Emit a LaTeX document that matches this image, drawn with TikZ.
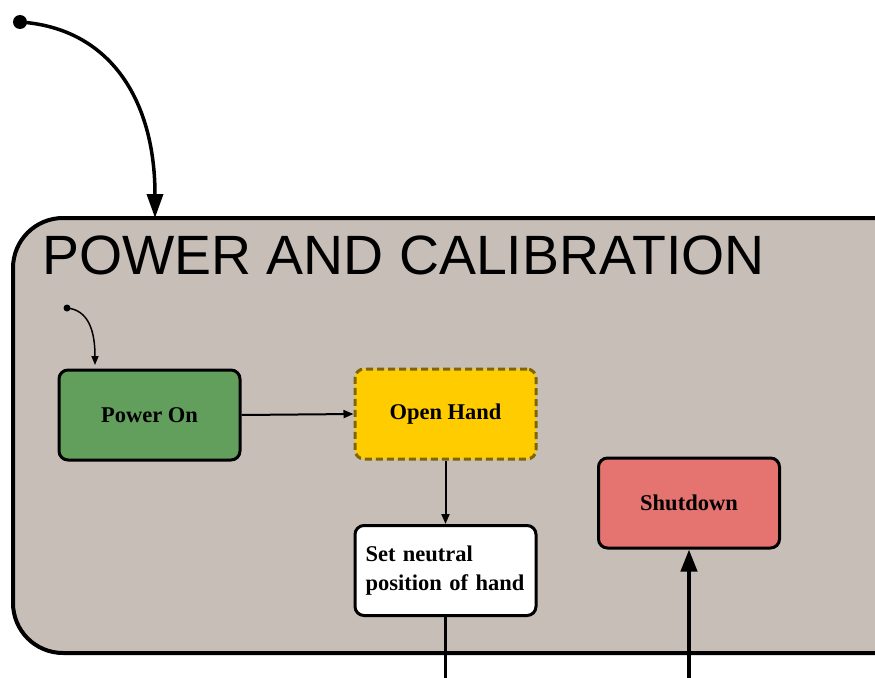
\documentclass[tikz,border=0pt]{standalone}
\usepackage{fontspec}
\setmainfont{Liberation Serif}
\newfontfamily\titlefont{Liberation Sans}
\usetikzlibrary{arrows.meta}
\definecolor{contfill}{HTML}{C7BEB8}
\definecolor{ongreen}{HTML}{629F5C}
\definecolor{openyellow}{HTML}{FFCC00}
\definecolor{openborder}{HTML}{7F6600}
\definecolor{shutred}{HTML}{E57370}
\tikzset{
  statebox/.style={draw=black, line width=3pt, rounded corners=9pt, minimum width=181pt, minimum height=90pt, inner sep=0pt, font=\bfseries\fontsize{22.5}{28.5}\selectfont},
  conn/.style={draw=black, line width=2pt, -{Triangle[length=10pt,width=8pt]}},
  thickconn/.style={draw=black, line width=4pt, -{Triangle[length=22pt,width=16pt]}}
}
\begin{document}
\begin{tikzpicture}[x=1pt,y=-1pt]
\useasboundingbox (0,0) rectangle (875,677);
\clip (0,0) rectangle (875,677);
% container
\draw[fill=contfill, line width=4pt, rounded corners=50pt] (13,218) rectangle (930,653);
\node[anchor=base west, inner sep=0pt, font=\titlefont\fontsize{55.4}{60}\selectfont] (title) at (42,274) {POWER AND CALIBRATION};
% states
\node[statebox, fill=ongreen] (power) at (149.5,415) {Power On};
\node[statebox, fill=openyellow, draw=openborder, dashed, dash pattern=on 7pt off 4pt] (open) at (445.5,414) {Open Hand};
\node[statebox, fill=white, align=left, text width=160pt] (neutral) at (445.5,570.5) {Set neutral\\position of hand};
\node[statebox, fill=shutred] (shut) at (689,503) {Shutdown};
% initial markers
\fill (20,22) circle (7pt);
\coordinate (startc) at (20,22);
\draw[line width=3.5pt, -{Triangle[length=24pt,width=16pt]}] (startc) .. controls (110,28) and (155,100) .. (155,218);
\fill (67,308) circle (3.5pt);
\coordinate (inner) at (67,308);
\draw[line width=1.5pt, -{Triangle[length=9pt,width=7pt]}] (inner) .. controls (88,310) and (95,330) .. (95,365);
% connectors
\draw[conn] (power.east) -- (open.west);
\draw[conn] (open.south) -- (neutral.north);
\coordinate (outN) at (445.5,690);
\draw[line width=3.5pt] (neutral.south) -- (outN);
\coordinate (inS) at (689,690);
\draw[thickconn] (inS) -- (shut.south);
\end{tikzpicture}
\end{document}
